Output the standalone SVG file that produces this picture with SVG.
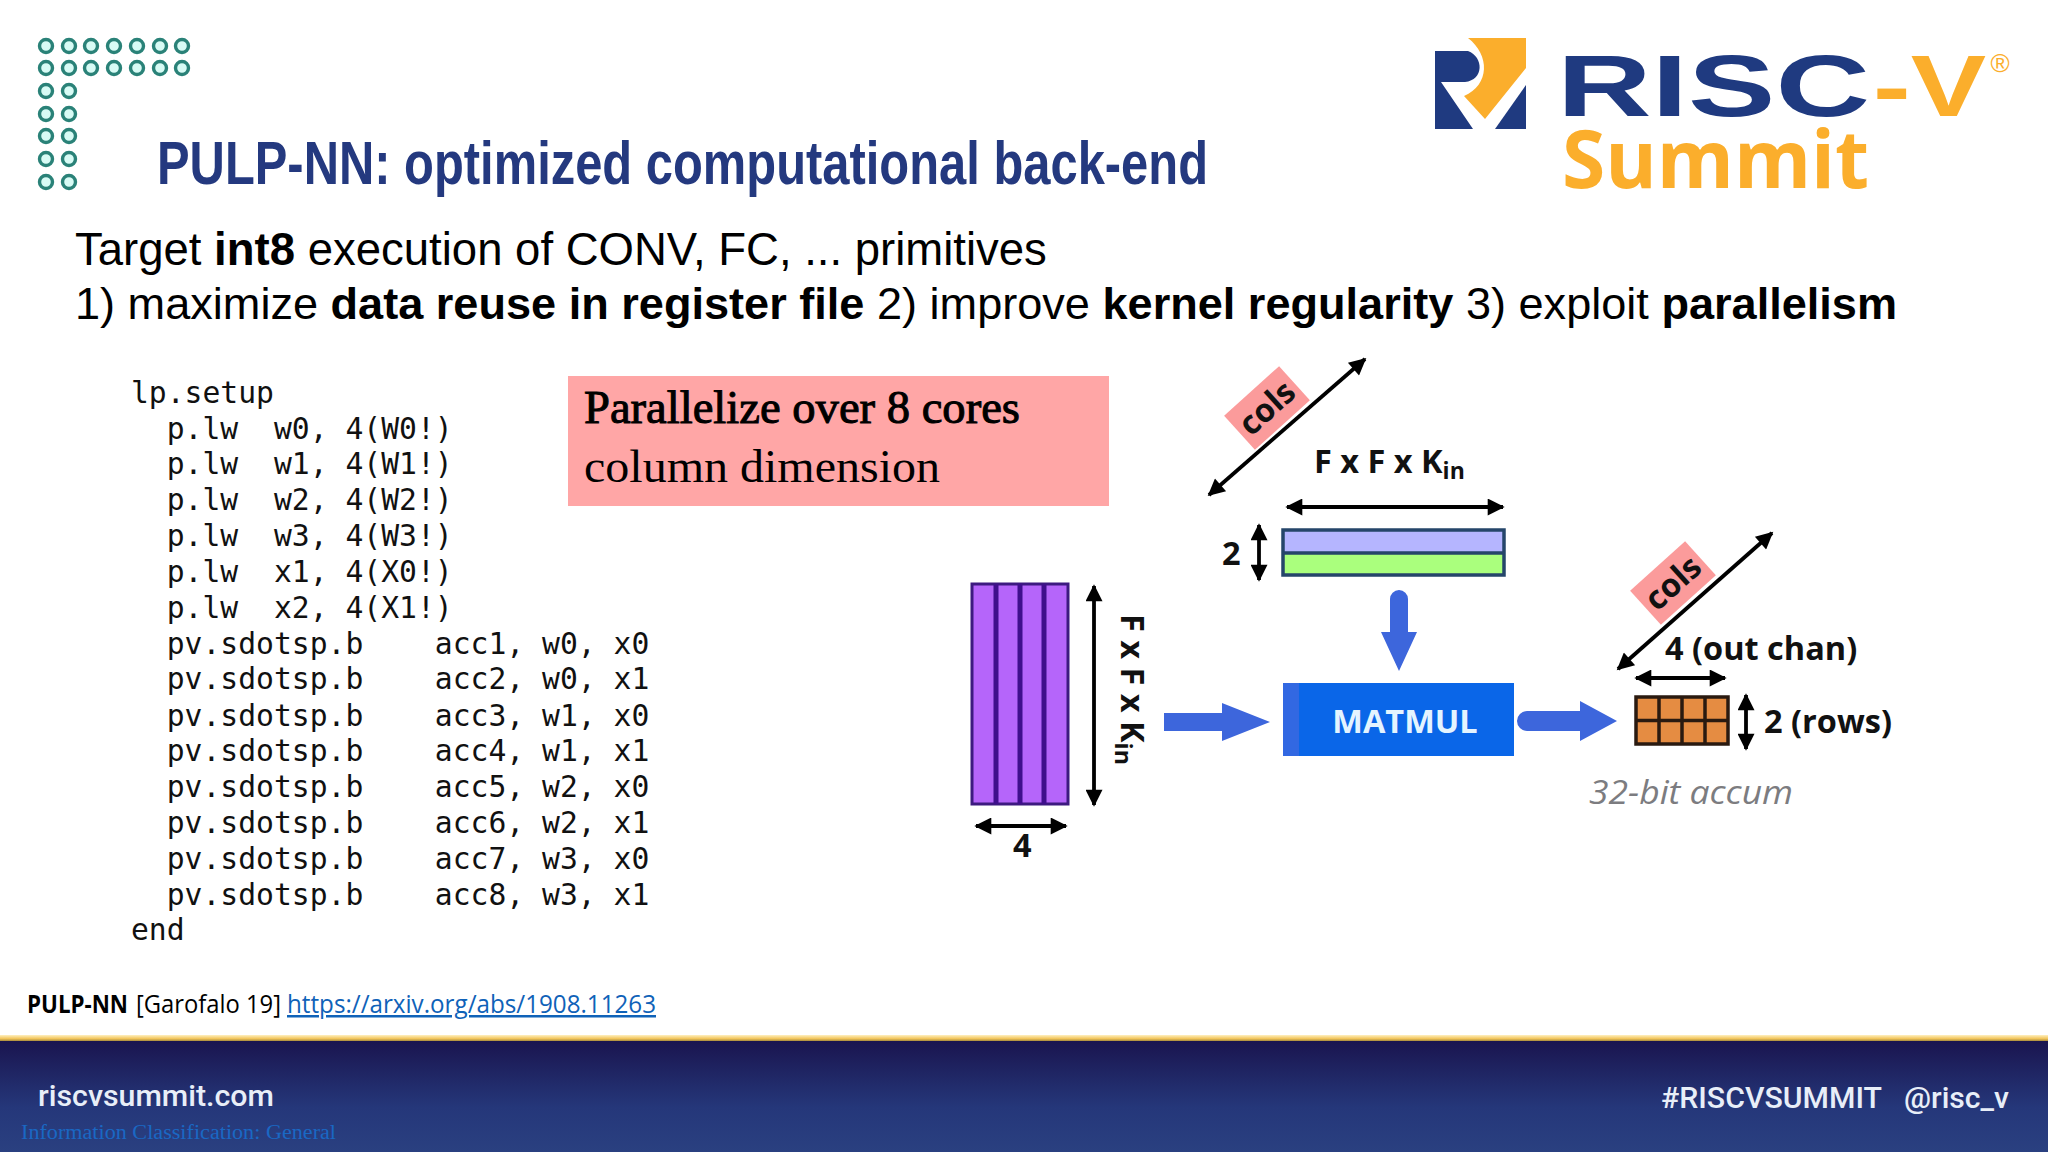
<svg xmlns="http://www.w3.org/2000/svg" width="2048" height="1152" viewBox="0 0 2048 1152">
<defs>
<linearGradient id="fg" x1="0" y1="0" x2="0" y2="1"><stop offset="0" stop-color="#1a154f"/><stop offset="0.6" stop-color="#25377a"/><stop offset="1" stop-color="#2a4080"/></linearGradient>
<linearGradient id="gold" x1="0" y1="0" x2="0" y2="1"><stop offset="0" stop-color="#fff0c0"/><stop offset="0.6" stop-color="#f2c55c"/><stop offset="1" stop-color="#a88a3c"/></linearGradient>
<marker id="ah" viewBox="0 0 10 10" refX="9" refY="5" markerWidth="22" markerHeight="17" markerUnits="userSpaceOnUse" orient="auto-start-reverse"><path d="M0 0L10 5L0 10Z" fill="#000"/></marker>
<circle id="d" r="6.500" fill="#d8fbf5" stroke="#2a8278" stroke-width="3.400"/>
</defs>
<style>
.code{font-family:"DejaVu Sans Mono",monospace;font-size:29.7px;fill:#111;white-space:pre}
.body{font-family:"Liberation Sans",Arial,sans-serif;fill:#000}
.lab{font-family:"Open Sans",sans-serif;font-weight:700;fill:#111;font-size:32.5px}
.dim{stroke:#000;stroke-width:3.8;fill:none;marker-start:url(#ah);marker-end:url(#ah)}
.blue{fill:#3d66dc}
.foot{font-family:Roboto,sans-serif;font-weight:500;fill:#e8eef8}
.sr{font-family:"Liberation Serif",serif;fill:#000;font-size:46px}
</style>
<rect width="2048" height="1152" fill="#fff"/>
<g id="dots-logo">
<use href="#d" x="46" y="46"/><use href="#d" x="69" y="46"/><use href="#d" x="91" y="46"/><use href="#d" x="114" y="46"/><use href="#d" x="137" y="46"/><use href="#d" x="160" y="46"/><use href="#d" x="182" y="46"/>
<use href="#d" x="46" y="68"/><use href="#d" x="69" y="68"/><use href="#d" x="91" y="68"/><use href="#d" x="114" y="68"/><use href="#d" x="137" y="68"/><use href="#d" x="160" y="68"/><use href="#d" x="182" y="68"/>
<use href="#d" x="46" y="91"/><use href="#d" x="69" y="91"/><use href="#d" x="46" y="114"/><use href="#d" x="69" y="114"/><use href="#d" x="46" y="136"/><use href="#d" x="69" y="136"/><use href="#d" x="46" y="159"/><use href="#d" x="69" y="159"/><use href="#d" x="46" y="182"/><use href="#d" x="69" y="182"/>
</g>
<g id="title"><text x="157" y="184" font-family="Liberation Sans,sans-serif" font-weight="700" font-size="62" fill="#24397f" textLength="1051" lengthAdjust="spacingAndGlyphs">PULP-NN: optimized computational back-end</text></g>
<g id="riscv-logo">
<path d="M1468 38H1526V68L1485 119L1464 96C1490 85 1490 55 1468 38Z" fill="#fbae2c"/>
<path d="M1435 51H1468C1484 57 1484 80 1465 82H1441L1473 129H1435Z" fill="#1f3a80"/>
<path d="M1526 85V129H1495Z" fill="#1f3a80"/>
<text x="1557" y="116" font-family="Liberation Sans,sans-serif" font-weight="700" font-size="88" fill="#1f3a80" textLength="313" lengthAdjust="spacingAndGlyphs">RISC</text>
<text x="1873" y="116" font-family="Liberation Sans,sans-serif" font-weight="700" font-size="88" fill="#fbae2c" textLength="113" lengthAdjust="spacingAndGlyphs">-V</text>
<text x="2000" y="72" text-anchor="middle" font-family="Liberation Sans,sans-serif" font-size="26" fill="#fbae2c">®</text>
<text x="1562" y="188" font-family="Open Sans,sans-serif" font-weight="700" font-size="80" fill="#fbae2c" textLength="307" lengthAdjust="spacingAndGlyphs">Summit</text>
</g>
<g id="intro">
<text class="body" font-size="45.5" x="75" y="265">Target <tspan font-weight="700">int8</tspan> execution of CONV, FC, ... primitives</text>
<text class="body" font-size="45.1" x="75" y="319">1) maximize <tspan font-weight="700">data reuse in register file</tspan> 2) improve <tspan font-weight="700">kernel regularity</tspan> 3) exploit <tspan font-weight="700">parallelism</tspan></text>
</g>
<g id="code">
<text class="code" x="131" y="403">lp.setup</text>
<text class="code" x="131" y="438.500">  p.lw  w0, 4(W0!)</text>
<text class="code" x="131" y="474">  p.lw  w1, 4(W1!)</text>
<text class="code" x="131" y="510">  p.lw  w2, 4(W2!)</text>
<text class="code" x="131" y="546">  p.lw  w3, 4(W3!)</text>
<text class="code" x="131" y="582">  p.lw  x1, 4(X0!)</text>
<text class="code" x="131" y="618">  p.lw  x2, 4(X1!)</text>
<text class="code" x="131" y="654">  pv.sdotsp.b    acc1, w0, x0</text>
<text class="code" x="131" y="689">  pv.sdotsp.b    acc2, w0, x1</text>
<text class="code" x="131" y="725.500">  pv.sdotsp.b    acc3, w1, x0</text>
<text class="code" x="131" y="761">  pv.sdotsp.b    acc4, w1, x1</text>
<text class="code" x="131" y="797">  pv.sdotsp.b    acc5, w2, x0</text>
<text class="code" x="131" y="833">  pv.sdotsp.b    acc6, w2, x1</text>
<text class="code" x="131" y="869">  pv.sdotsp.b    acc7, w3, x0</text>
<text class="code" x="131" y="905">  pv.sdotsp.b    acc8, w3, x1</text>
<text class="code" x="131" y="940">end</text>
</g>
<g id="note">
<rect x="568" y="376" width="541" height="130" fill="#ffa6a6"/>
<text class="sr" x="584" y="423" stroke="#000" stroke-width="1" textLength="436" lengthAdjust="spacingAndGlyphs">Parallelize over 8 cores</text>
<text class="sr" x="584" y="482" textLength="356" lengthAdjust="spacingAndGlyphs">column dimension</text>
</g>
<g id="weights">
<rect x="1283" y="530" width="221" height="23" fill="#b5b5ff"/>
<rect x="1283" y="553" width="221" height="22" fill="#aaff7d"/>
<rect x="1283" y="530" width="221" height="45" fill="none" stroke="#25456a" stroke-width="3.500"/>
<line x1="1283" y1="553" x2="1504" y2="553" stroke="#25456a" stroke-width="3.500"/>
<text class="lab" x="1314" y="473">F x F x K<tspan font-size="23" dy="6">in</tspan></text>
<text class="lab" x="1222" y="565">2</text>
</g>
<g id="inputs">
<rect x="972" y="584" width="96" height="220" fill="#b565fa" stroke="#3d1a80" stroke-width="3"/>
<path d="M996 584V804M1020 584V804M1044 584V804" stroke="#3f0f8c" stroke-width="5" fill="none"/>
<text class="lab" transform="translate(1121 614) rotate(90)">F x F x K<tspan font-size="23" dy="6">in</tspan></text>
<text class="lab" x="1013" y="857">4</text>
</g>
<g id="matmul">
<rect x="1283" y="683" width="231" height="73" fill="#0a66e8"/>
<rect x="1283" y="683" width="16" height="73" fill="#3268e2"/>
<text x="1405" y="733" text-anchor="middle" font-family="Open Sans,sans-serif" font-weight="700" font-size="32.5" fill="#e4f4ff">MATMUL</text>
</g>
<g id="accum">
<rect x="1636" y="697" width="92" height="47" fill="#e58c42" stroke="#2a1a10" stroke-width="3.500"/>
<path d="M1659 697V744M1682 697V744M1705 697V744M1636 720.500H1728" stroke="#2a1a10" stroke-width="3.500" fill="none"/>
<text class="lab" x="1665" y="660">4 (out chan)</text>
<text class="lab" x="1764" y="733">2 (rows)</text>
<text x="1589" y="804" font-family="Open Sans,sans-serif" font-style="italic" font-size="32" fill="#7c7c80" textLength="204" lengthAdjust="spacingAndGlyphs">32-bit accum</text>
</g>
<g id="cols-top">
<g transform="translate(1267 408) rotate(-42)"><rect x="-37" y="-23" width="74" height="46" fill="#fb9b9b"/><text class="lab" text-anchor="middle" y="11">cols</text></g>
</g>
<g id="cols-bottom">
<g transform="translate(1673 583) rotate(-42)"><rect x="-37" y="-23" width="74" height="46" fill="#fb9b9b"/><text class="lab" text-anchor="middle" y="11">cols</text></g>
</g>
<g id="connectors">
<line class="dim" x1="1209" y1="495" x2="1365" y2="359"/>
<line class="dim" x1="1618" y1="669" x2="1772" y2="533"/>
<line class="dim" x1="1287" y1="507" x2="1503" y2="507"/>
<line class="dim" x1="1259" y1="525" x2="1259" y2="580"/>
<line class="dim" x1="1094" y1="586" x2="1094" y2="805"/>
<line class="dim" x1="976" y1="826" x2="1066" y2="826"/>
<line class="dim" x1="1636" y1="678" x2="1725" y2="678"/>
<line class="dim" x1="1746" y1="695" x2="1746" y2="749"/>
<path class="blue" d="M1164 713H1222V703L1270 722L1222 741V731H1164Z"/>
<path class="blue" d="M1390 599a9 9 0 0 1 18 0V632H1417L1399 671L1381 632H1390Z"/>
<path class="blue" d="M1527 711H1580V701L1617 721L1580 741V731H1527a10 10 0 0 1 0-20Z"/>
</g>
<g id="citation">
<text x="27" y="1013" font-family="Open Sans,sans-serif" font-size="25" font-weight="700" fill="#000" textLength="101" lengthAdjust="spacingAndGlyphs">PULP-NN</text>
<text x="136" y="1013" font-family="Open Sans,sans-serif" font-size="25" fill="#000" textLength="145" lengthAdjust="spacingAndGlyphs">[Garofalo 19]</text>
<text x="287" y="1013" font-family="Open Sans,sans-serif" font-size="25" fill="#0f62b8" text-decoration="underline" textLength="369" lengthAdjust="spacingAndGlyphs">https://arxiv.org/abs/1908.11263</text>
</g>
<g id="footer">
<rect y="1041" width="2048" height="111" fill="url(#fg)"/>
<rect y="1035" width="2048" height="6" fill="url(#gold)"/>
<text class="foot" x="38" y="1106" font-size="30" textLength="236" lengthAdjust="spacingAndGlyphs">riscvsummit.com</text>
<text x="21" y="1139" font-family="Liberation Serif,serif" font-size="20" fill="#1a68c4" textLength="315" lengthAdjust="spacingAndGlyphs">Information Classification: General</text>
<text class="foot" x="1661" y="1108" font-size="30" textLength="221" lengthAdjust="spacingAndGlyphs">#RISCVSUMMIT</text>
<text class="foot" x="1904" y="1108" font-size="30" textLength="105" lengthAdjust="spacingAndGlyphs">@risc_v</text>
</g>
</svg>
